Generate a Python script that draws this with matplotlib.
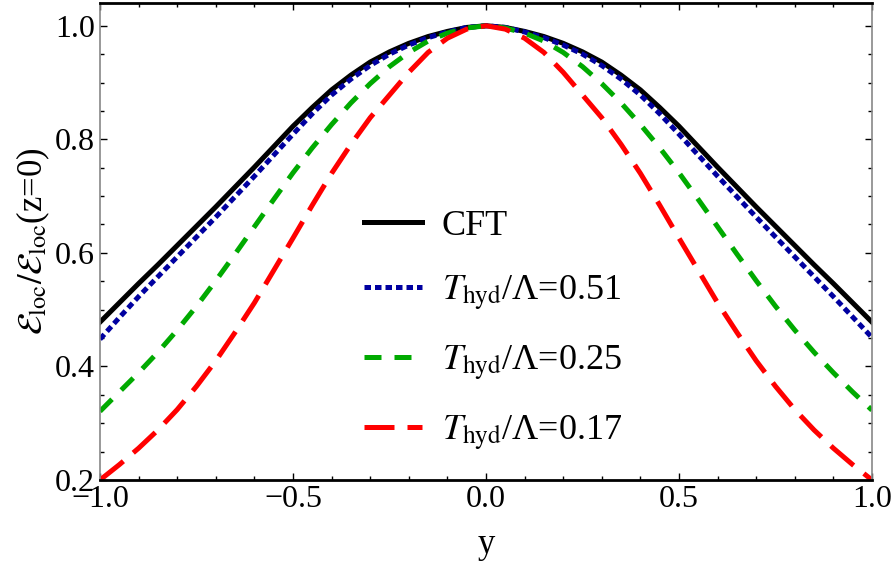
import numpy as np
import matplotlib.pyplot as plt
from matplotlib.ticker import MultipleLocator

plt.rcParams['font.family'] = ['Liberation Serif', 'DejaVu Serif']
plt.rcParams['mathtext.fontset'] = 'stix'

# values (curves are symmetric about y=0)
y_vals = [-1.0, -0.95, -0.9, -0.85, -0.8, -0.75, -0.7, -0.65, -0.6, -0.55, -0.5,
          -0.45, -0.4, -0.35, -0.3, -0.25, -0.2, -0.15, -0.1, -0.05, 0.0,
          0.05, 0.1, 0.15, 0.2, 0.25, 0.3, 0.35, 0.4, 0.45, 0.5,
          0.55, 0.6, 0.65, 0.7, 0.75, 0.8, 0.85, 0.9, 0.95, 1.0]
cft = [0.478, 0.512, 0.546, 0.579, 0.613, 0.647, 0.681, 0.716, 0.751, 0.787, 0.823,
       0.856, 0.887, 0.913, 0.936, 0.954, 0.969, 0.981, 0.990, 0.997, 1.000,
       0.997, 0.990, 0.981, 0.969, 0.954, 0.936, 0.913, 0.887, 0.856, 0.823,
       0.787, 0.751, 0.716, 0.681, 0.647, 0.613, 0.579, 0.546, 0.512, 0.478]
t051 = [0.448, 0.486, 0.523, 0.558, 0.593, 0.628, 0.663, 0.699, 0.735, 0.772, 0.809,
        0.845, 0.878, 0.906, 0.930, 0.950, 0.966, 0.979, 0.989, 0.997, 1.000,
        0.997, 0.989, 0.979, 0.966, 0.950, 0.930, 0.906, 0.878, 0.845, 0.809,
        0.772, 0.735, 0.699, 0.663, 0.628, 0.593, 0.558, 0.523, 0.487, 0.451]
t025 = [0.321, 0.355, 0.389, 0.425, 0.464, 0.506, 0.551, 0.598, 0.646, 0.694, 0.741,
        0.785, 0.826, 0.864, 0.898, 0.928, 0.953, 0.973, 0.987, 0.996, 1.000,
        0.996, 0.987, 0.973, 0.953, 0.928, 0.898, 0.864, 0.826, 0.785, 0.741,
        0.694, 0.646, 0.598, 0.551, 0.506, 0.464, 0.425, 0.389, 0.355, 0.323]
t017 = [0.200, 0.227, 0.256, 0.288, 0.324, 0.365, 0.410, 0.460, 0.512, 0.569, 0.626,
        0.684, 0.740, 0.791, 0.838, 0.878, 0.918, 0.953, 0.978, 0.994, 1.000,
        0.994, 0.978, 0.953, 0.918, 0.878, 0.838, 0.791, 0.740, 0.684, 0.626,
        0.569, 0.512, 0.460, 0.410, 0.365, 0.324, 0.288, 0.256, 0.227, 0.200]

fig = plt.figure(figsize=(8.96, 5.8), dpi=100)
ax = fig.add_axes([0.1116, 0.1724, 0.8616, 0.8224])

lw = 3.6
ax.plot(y_vals, cft, color='black', lw=lw, label='CFT')
ax.plot(y_vals, t051, color='#0000a0', lw=lw, dashes=(1.3, 0.8),
        label=r'$T_{\rm hyd}$/Λ=0.51')
ax.plot(y_vals, t025, color='#00aa00', lw=lw, dashes=(3.4, 2.6),
        label=r'$T_{\rm hyd}$/Λ=0.25')
ax.plot(y_vals, t017, color='#ff0000', lw=lw, dashes=(6.0, 2.6),
        label=r'$T_{\rm hyd}$/Λ=0.17')

ax.set_xlim(-1, 1)
ax.set_ylim(0.2, 1.04)
ax.xaxis.set_major_locator(MultipleLocator(0.5))
ax.xaxis.set_minor_locator(MultipleLocator(0.1))
ax.yaxis.set_major_locator(MultipleLocator(0.2))
ax.yaxis.set_minor_locator(MultipleLocator(0.05))
ax.tick_params(which='both', direction='in', top=True, right=True, labelsize=23)
ax.tick_params(which='major', length=5, width=1)
ax.tick_params(which='minor', length=3, width=1)
ax.xaxis.set_major_formatter(plt.FuncFormatter(lambda v, p: f'{v:.1f}'.replace('-', '\u2212')))
ax.yaxis.set_major_formatter(plt.FuncFormatter(lambda v, p: f'{v:.1f}'))

for s in ['top', 'bottom']:
    ax.spines[s].set_linewidth(2)
    ax.spines[s].set_color('black')
for s in ['left', 'right']:
    ax.spines[s].set_linewidth(1.2)
    ax.spines[s].set_color('#888888')

ax.set_xlabel('y', fontsize=25, labelpad=10)
ax.set_ylabel(r'$\mathcal{E}_{\rm loc}/\mathcal{E}_{\rm loc}$(z=0)', fontsize=25, labelpad=2)

ax.legend(loc='upper left', bbox_to_anchor=(0.30, 0.635), frameon=False, fontsize=26,
          handlelength=1.6, handletextpad=0.55, labelspacing=0.85)

fig.savefig('out.png', dpi=100)
